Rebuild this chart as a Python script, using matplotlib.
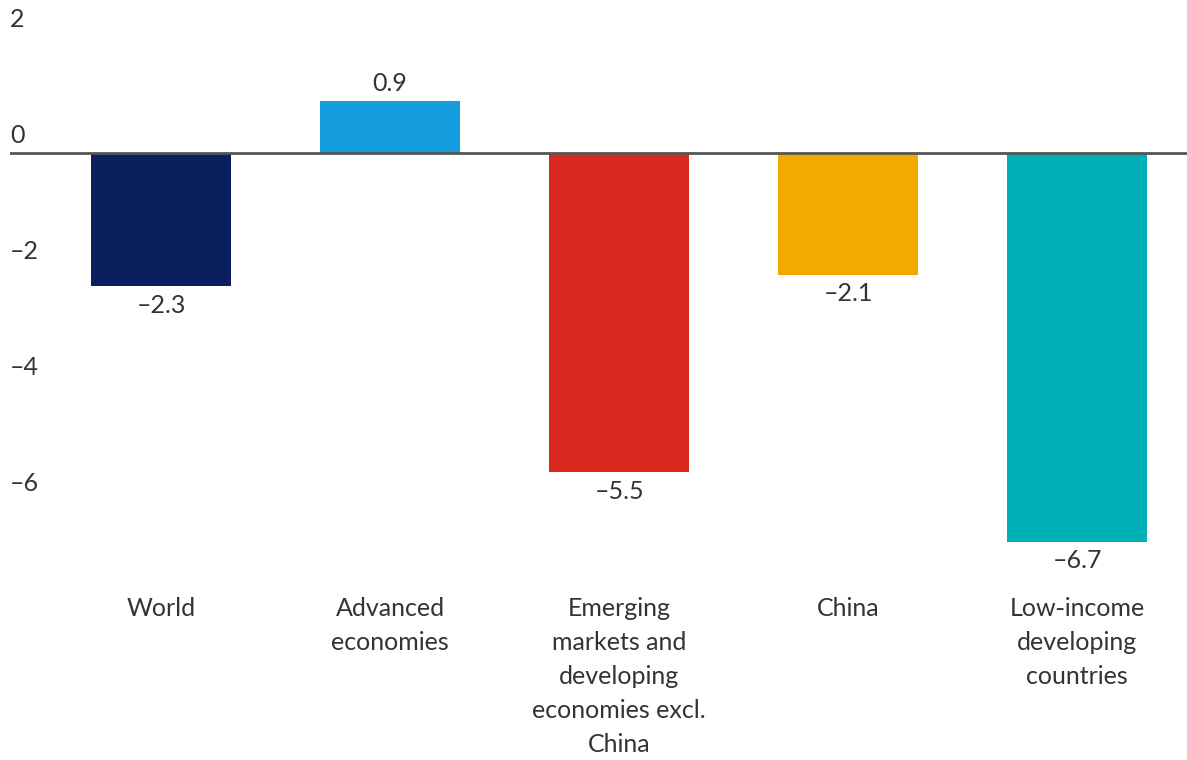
import matplotlib.pyplot as plt

categories = ['World', 'Advanced\neconomies', 'Emerging\nmarkets and\ndeveloping\neconomies excl.\nChina',
              'China', 'Low-income\ndeveloping\ncountries']
values = [-2.3, 0.9, -5.5, -2.1, -6.7]
bar_colors = ['#0b1f5e', '#139ddf', '#d9291f', '#f2a900', '#00b0b8']
y_ticks = [2, 0, -2, -4, -6]

plt.rcParams['font.family'] = ['Lato', 'DejaVu Sans']
text_color = '#333333'
fs = 18

fig = plt.figure(figsize=(11.87, 7.6), dpi=100)
ax = fig.add_axes([10 / 1187, 0, 1 - 10 / 1187, 1])

x = list(range(len(values)))
ax.bar(x, values, width=0.61, color=bar_colors, zorder=2)
ax.axhline(0, color='#555555', linewidth=2, zorder=3)

ax.set_xlim(-0.66, 4.48)
ax.set_ylim(-10.466, 2.638)
ax.axis('off')

# y labels sit just above their value
for t in y_ticks:
    ax.text(-0.66, t + 0.1, f'{t}'.replace('-', '\u2013'), ha='left', va='bottom',
            fontsize=fs, color=text_color)

# value labels
for xi, v in zip(x, values):
    label = f'{v:.1f}'.replace('-', '\u2013')
    if v >= 0:
        ax.text(xi, v + 0.1, label, ha='center', va='bottom', fontsize=fs, color=text_color)
    else:
        ax.text(xi, v - 0.13, label, ha='center', va='top', fontsize=fs, color=text_color)

# category labels
for xi, c in zip(x, categories):
    ax.text(xi, -7.65, c.replace('-', '\u2011'), ha='center', va='top', fontsize=fs,
            color=text_color, linespacing=1.58)

fig.savefig('out.png', dpi=100, facecolor='white')
